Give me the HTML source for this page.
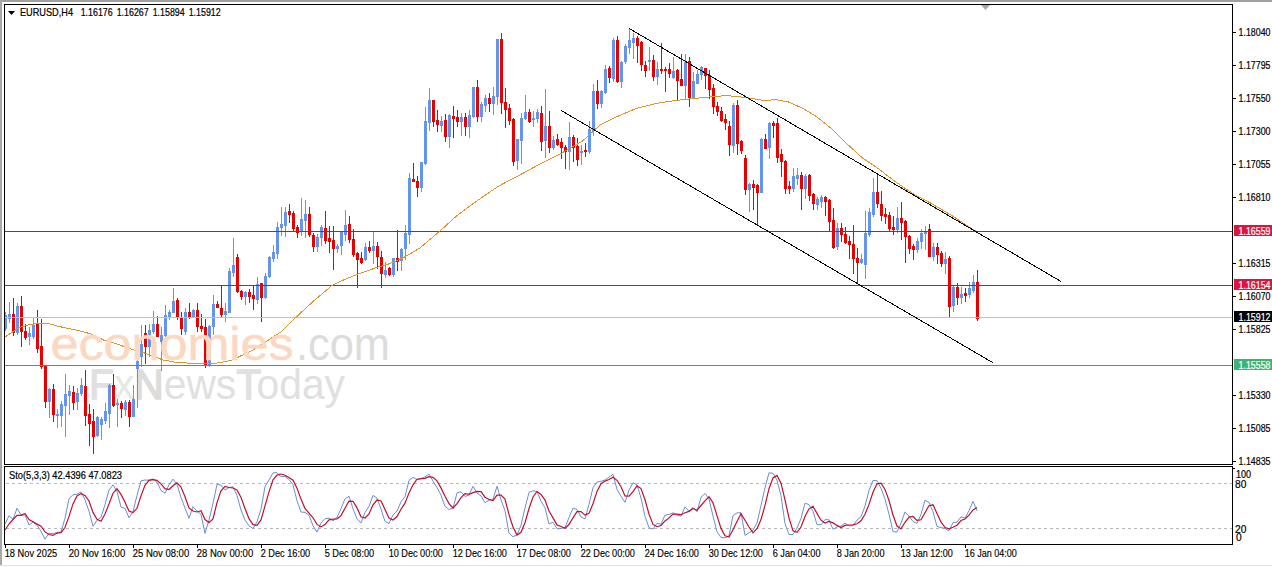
<!DOCTYPE html><html><head><meta charset="utf-8"><style>html,body{margin:0;padding:0;background:#fff;width:1272px;height:567px;overflow:hidden}svg{display:block}text{font-family:"Liberation Sans", sans-serif;}.t{stroke-width:0.2px}.t2{stroke-width:0.15px}</style></head><body>
<svg width="1272" height="567" viewBox="0 0 1272 567" shape-rendering="crispEdges">
<rect x="0" y="0" width="1272" height="2" fill="#a0a0a0"/>
<rect x="0" y="0" width="2" height="565" fill="#a8a8a8"/>
<rect x="0" y="565" width="1272" height="1" fill="#e2e2e2"/>
<text x="89" y="399" font-size="43" fill="#e0e0e0" textLength="256" lengthAdjust="spacingAndGlyphs"><tspan stroke="#e0e0e0" stroke-width="1.3">F</tspan><tspan fill="#e2eae2">x</tspan><tspan stroke="#dcdcdc" fill="#dcdcdc" stroke-width="1.6">N</tspan>ews<tspan stroke="#e0e0e0" stroke-width="1.3">T</tspan>oday</text>
<rect x="5" y="312" width="1" height="19" fill="#6495ed"/><rect x="4" y="315" width="3" height="14" fill="#6495ed"/><rect x="9" y="302" width="1" height="21" fill="#6495ed"/><rect x="8" y="314" width="3" height="5" fill="#6495ed"/><rect x="13" y="298" width="1" height="38" fill="#e60000"/><rect x="12" y="314" width="3" height="19" fill="#e60000"/><rect x="17" y="303" width="1" height="32" fill="#6495ed"/><rect x="16" y="306" width="3" height="27" fill="#6495ed"/><rect x="21" y="296" width="1" height="51" fill="#e60000"/><rect x="20" y="306" width="3" height="26" fill="#e60000"/><rect x="25" y="324" width="1" height="16" fill="#e60000"/><rect x="24" y="331" width="3" height="7" fill="#e60000"/><rect x="29" y="327" width="1" height="18" fill="#6495ed"/><rect x="28" y="333" width="3" height="4" fill="#6495ed"/><rect x="33" y="318" width="1" height="21" fill="#6495ed"/><rect x="32" y="325" width="3" height="12" fill="#6495ed"/><rect x="37" y="310" width="1" height="43" fill="#e60000"/><rect x="36" y="323" width="3" height="26" fill="#e60000"/><rect x="41" y="319" width="1" height="50" fill="#e60000"/><rect x="40" y="346" width="3" height="21" fill="#e60000"/><rect x="45" y="366" width="1" height="42" fill="#e60000"/><rect x="44" y="366" width="3" height="36" fill="#e60000"/><rect x="49" y="388" width="1" height="30" fill="#6495ed"/><rect x="48" y="389" width="3" height="13" fill="#6495ed"/><rect x="53" y="384" width="1" height="38" fill="#e60000"/><rect x="52" y="389" width="3" height="26" fill="#e60000"/><rect x="57" y="409" width="1" height="19" fill="#6495ed"/><rect x="56" y="414" width="3" height="2" fill="#6495ed"/><rect x="61" y="401" width="1" height="26" fill="#6495ed"/><rect x="60" y="404" width="3" height="12" fill="#6495ed"/><rect x="65" y="374" width="1" height="63" fill="#6495ed"/><rect x="64" y="394" width="3" height="12" fill="#6495ed"/><rect x="69" y="385" width="1" height="30" fill="#6495ed"/><rect x="68" y="391" width="3" height="5" fill="#6495ed"/><rect x="73" y="386" width="1" height="24" fill="#e60000"/><rect x="72" y="392" width="3" height="11" fill="#e60000"/><rect x="77" y="388" width="1" height="22" fill="#6495ed"/><rect x="76" y="393" width="3" height="9" fill="#6495ed"/><rect x="81" y="378" width="1" height="18" fill="#6495ed"/><rect x="80" y="385" width="3" height="9" fill="#6495ed"/><rect x="85" y="370" width="1" height="56" fill="#e60000"/><rect x="84" y="386" width="3" height="30" fill="#e60000"/><rect x="89" y="404" width="1" height="42" fill="#e60000"/><rect x="88" y="414" width="3" height="10" fill="#e60000"/><rect x="93" y="409" width="1" height="45" fill="#e60000"/><rect x="92" y="421" width="3" height="16" fill="#e60000"/><rect x="97" y="416" width="1" height="21" fill="#6495ed"/><rect x="96" y="417" width="3" height="19" fill="#6495ed"/><rect x="101" y="417" width="1" height="23" fill="#6495ed"/><rect x="100" y="419" width="3" height="6" fill="#6495ed"/><rect x="105" y="403" width="1" height="21" fill="#6495ed"/><rect x="104" y="411" width="3" height="10" fill="#6495ed"/><rect x="109" y="384" width="1" height="44" fill="#6495ed"/><rect x="108" y="385" width="3" height="29" fill="#6495ed"/><rect x="113" y="374" width="1" height="33" fill="#e60000"/><rect x="112" y="385" width="3" height="21" fill="#e60000"/><rect x="117" y="399" width="1" height="28" fill="#6495ed"/><rect x="116" y="403" width="3" height="2" fill="#6495ed"/><rect x="121" y="401" width="1" height="17" fill="#e60000"/><rect x="120" y="403" width="3" height="6" fill="#e60000"/><rect x="125" y="400" width="1" height="16" fill="#6495ed"/><rect x="124" y="402" width="3" height="8" fill="#6495ed"/><rect x="129" y="400" width="1" height="27" fill="#e60000"/><rect x="128" y="402" width="3" height="15" fill="#e60000"/><rect x="133" y="385" width="1" height="32" fill="#6495ed"/><rect x="132" y="399" width="3" height="18" fill="#6495ed"/><rect x="137" y="360" width="1" height="48" fill="#6495ed"/><rect x="136" y="361" width="3" height="8" fill="#6495ed"/><rect x="141" y="325" width="1" height="42" fill="#6495ed"/><rect x="140" y="344" width="3" height="13" fill="#6495ed"/><rect x="145" y="325" width="1" height="39" fill="#e60000"/><rect x="144" y="333" width="3" height="14" fill="#e60000"/><rect x="149" y="324" width="1" height="33" fill="#6495ed"/><rect x="148" y="330" width="3" height="17" fill="#6495ed"/><rect x="153" y="311" width="1" height="23" fill="#6495ed"/><rect x="152" y="324" width="3" height="8" fill="#6495ed"/><rect x="157" y="316" width="1" height="21" fill="#e60000"/><rect x="156" y="324" width="3" height="13" fill="#e60000"/><rect x="161" y="327" width="1" height="44" fill="#6495ed"/><rect x="160" y="335" width="3" height="7" fill="#6495ed"/><rect x="165" y="305" width="1" height="32" fill="#6495ed"/><rect x="164" y="315" width="3" height="21" fill="#6495ed"/><rect x="169" y="310" width="1" height="10" fill="#6495ed"/><rect x="168" y="312" width="3" height="5" fill="#6495ed"/><rect x="173" y="288" width="1" height="25" fill="#6495ed"/><rect x="172" y="301" width="3" height="12" fill="#6495ed"/><rect x="177" y="298" width="1" height="22" fill="#e60000"/><rect x="176" y="300" width="3" height="18" fill="#e60000"/><rect x="181" y="312" width="1" height="23" fill="#e60000"/><rect x="180" y="317" width="3" height="12" fill="#e60000"/><rect x="185" y="308" width="1" height="27" fill="#6495ed"/><rect x="184" y="312" width="3" height="20" fill="#6495ed"/><rect x="189" y="303" width="1" height="16" fill="#e60000"/><rect x="188" y="312" width="3" height="6" fill="#e60000"/><rect x="193" y="309" width="1" height="9" fill="#6495ed"/><rect x="192" y="310" width="3" height="7" fill="#6495ed"/><rect x="197" y="303" width="1" height="29" fill="#e60000"/><rect x="196" y="310" width="3" height="17" fill="#e60000"/><rect x="201" y="314" width="1" height="18" fill="#e60000"/><rect x="200" y="326" width="3" height="3" fill="#e60000"/><rect x="205" y="319" width="1" height="49" fill="#e60000"/><rect x="204" y="327" width="3" height="38" fill="#e60000"/><rect x="209" y="325" width="1" height="42" fill="#6495ed"/><rect x="208" y="326" width="3" height="40" fill="#6495ed"/><rect x="213" y="295" width="1" height="40" fill="#6495ed"/><rect x="212" y="304" width="3" height="23" fill="#6495ed"/><rect x="217" y="301" width="1" height="7" fill="#e60000"/><rect x="216" y="304" width="3" height="4" fill="#e60000"/><rect x="221" y="285" width="1" height="33" fill="#e60000"/><rect x="220" y="308" width="3" height="7" fill="#e60000"/><rect x="225" y="303" width="1" height="19" fill="#6495ed"/><rect x="224" y="311" width="3" height="4" fill="#6495ed"/><rect x="229" y="268" width="1" height="45" fill="#6495ed"/><rect x="228" y="271" width="3" height="42" fill="#6495ed"/><rect x="233" y="238" width="1" height="39" fill="#6495ed"/><rect x="232" y="265" width="3" height="8" fill="#6495ed"/><rect x="237" y="254" width="1" height="39" fill="#e60000"/><rect x="236" y="257" width="3" height="35" fill="#e60000"/><rect x="241" y="290" width="1" height="10" fill="#e60000"/><rect x="240" y="291" width="3" height="6" fill="#e60000"/><rect x="245" y="291" width="1" height="14" fill="#6495ed"/><rect x="244" y="292" width="3" height="5" fill="#6495ed"/><rect x="249" y="289" width="1" height="14" fill="#e60000"/><rect x="248" y="292" width="3" height="5" fill="#e60000"/><rect x="253" y="286" width="1" height="24" fill="#e60000"/><rect x="252" y="295" width="3" height="4" fill="#e60000"/><rect x="257" y="277" width="1" height="27" fill="#6495ed"/><rect x="256" y="284" width="3" height="16" fill="#6495ed"/><rect x="261" y="283" width="1" height="39" fill="#e60000"/><rect x="260" y="283" width="3" height="15" fill="#e60000"/><rect x="265" y="273" width="1" height="26" fill="#6495ed"/><rect x="264" y="276" width="3" height="22" fill="#6495ed"/><rect x="269" y="256" width="1" height="22" fill="#6495ed"/><rect x="268" y="257" width="3" height="20" fill="#6495ed"/><rect x="273" y="245" width="1" height="17" fill="#6495ed"/><rect x="272" y="252" width="3" height="7" fill="#6495ed"/><rect x="277" y="222" width="1" height="37" fill="#6495ed"/><rect x="276" y="227" width="3" height="27" fill="#6495ed"/><rect x="281" y="207" width="1" height="29" fill="#6495ed"/><rect x="280" y="224" width="3" height="4" fill="#6495ed"/><rect x="285" y="207" width="1" height="30" fill="#6495ed"/><rect x="284" y="212" width="3" height="14" fill="#6495ed"/><rect x="289" y="204" width="1" height="19" fill="#e60000"/><rect x="288" y="211" width="3" height="4" fill="#e60000"/><rect x="293" y="211" width="1" height="20" fill="#e60000"/><rect x="292" y="213" width="3" height="16" fill="#e60000"/><rect x="297" y="225" width="1" height="13" fill="#e60000"/><rect x="296" y="227" width="3" height="6" fill="#e60000"/><rect x="301" y="198" width="1" height="38" fill="#6495ed"/><rect x="300" y="219" width="3" height="12" fill="#6495ed"/><rect x="305" y="200" width="1" height="38" fill="#6495ed"/><rect x="304" y="214" width="3" height="7" fill="#6495ed"/><rect x="309" y="207" width="1" height="30" fill="#e60000"/><rect x="308" y="214" width="3" height="21" fill="#e60000"/><rect x="313" y="233" width="1" height="19" fill="#e60000"/><rect x="312" y="235" width="3" height="12" fill="#e60000"/><rect x="317" y="234" width="1" height="18" fill="#6495ed"/><rect x="316" y="237" width="3" height="10" fill="#6495ed"/><rect x="321" y="225" width="1" height="21" fill="#6495ed"/><rect x="320" y="227" width="3" height="11" fill="#6495ed"/><rect x="325" y="211" width="1" height="33" fill="#e60000"/><rect x="324" y="228" width="3" height="13" fill="#e60000"/><rect x="329" y="226" width="1" height="27" fill="#e60000"/><rect x="328" y="238" width="3" height="4" fill="#e60000"/><rect x="333" y="226" width="1" height="44" fill="#e60000"/><rect x="332" y="240" width="3" height="9" fill="#e60000"/><rect x="337" y="244" width="1" height="9" fill="#6495ed"/><rect x="336" y="246" width="3" height="3" fill="#6495ed"/><rect x="341" y="231" width="1" height="24" fill="#6495ed"/><rect x="340" y="232" width="3" height="14" fill="#6495ed"/><rect x="345" y="210" width="1" height="31" fill="#6495ed"/><rect x="344" y="225" width="3" height="10" fill="#6495ed"/><rect x="349" y="216" width="1" height="27" fill="#e60000"/><rect x="348" y="224" width="3" height="16" fill="#e60000"/><rect x="353" y="229" width="1" height="28" fill="#e60000"/><rect x="352" y="239" width="3" height="16" fill="#e60000"/><rect x="357" y="252" width="1" height="36" fill="#e60000"/><rect x="356" y="253" width="3" height="7" fill="#e60000"/><rect x="361" y="252" width="1" height="12" fill="#e60000"/><rect x="360" y="258" width="3" height="5" fill="#e60000"/><rect x="365" y="243" width="1" height="18" fill="#6495ed"/><rect x="364" y="247" width="3" height="13" fill="#6495ed"/><rect x="369" y="241" width="1" height="12" fill="#e60000"/><rect x="368" y="247" width="3" height="4" fill="#e60000"/><rect x="373" y="232" width="1" height="32" fill="#6495ed"/><rect x="372" y="246" width="3" height="5" fill="#6495ed"/><rect x="377" y="242" width="1" height="27" fill="#e60000"/><rect x="376" y="246" width="3" height="11" fill="#e60000"/><rect x="381" y="251" width="1" height="37" fill="#e60000"/><rect x="380" y="257" width="3" height="17" fill="#e60000"/><rect x="385" y="262" width="1" height="16" fill="#6495ed"/><rect x="384" y="270" width="3" height="5" fill="#6495ed"/><rect x="389" y="267" width="1" height="9" fill="#e60000"/><rect x="388" y="268" width="3" height="7" fill="#e60000"/><rect x="393" y="258" width="1" height="19" fill="#6495ed"/><rect x="392" y="258" width="3" height="17" fill="#6495ed"/><rect x="397" y="230" width="1" height="41" fill="#e60000"/><rect x="396" y="258" width="3" height="4" fill="#e60000"/><rect x="401" y="248" width="1" height="23" fill="#6495ed"/><rect x="400" y="249" width="3" height="12" fill="#6495ed"/><rect x="405" y="225" width="1" height="35" fill="#6495ed"/><rect x="404" y="233" width="3" height="16" fill="#6495ed"/><rect x="409" y="173" width="1" height="71" fill="#6495ed"/><rect x="408" y="178" width="3" height="57" fill="#6495ed"/><rect x="413" y="163" width="1" height="19" fill="#e60000"/><rect x="412" y="179" width="3" height="3" fill="#e60000"/><rect x="417" y="176" width="1" height="21" fill="#e60000"/><rect x="416" y="181" width="3" height="7" fill="#e60000"/><rect x="421" y="162" width="1" height="30" fill="#6495ed"/><rect x="420" y="162" width="3" height="26" fill="#6495ed"/><rect x="425" y="107" width="1" height="58" fill="#6495ed"/><rect x="424" y="121" width="3" height="43" fill="#6495ed"/><rect x="429" y="88" width="1" height="43" fill="#6495ed"/><rect x="428" y="100" width="3" height="23" fill="#6495ed"/><rect x="433" y="100" width="1" height="27" fill="#e60000"/><rect x="432" y="100" width="3" height="22" fill="#e60000"/><rect x="437" y="110" width="1" height="22" fill="#e60000"/><rect x="436" y="120" width="3" height="5" fill="#e60000"/><rect x="441" y="116" width="1" height="16" fill="#6495ed"/><rect x="440" y="121" width="3" height="5" fill="#6495ed"/><rect x="445" y="114" width="1" height="28" fill="#e60000"/><rect x="444" y="120" width="3" height="17" fill="#e60000"/><rect x="449" y="114" width="1" height="34" fill="#6495ed"/><rect x="448" y="115" width="3" height="22" fill="#6495ed"/><rect x="453" y="106" width="1" height="32" fill="#e60000"/><rect x="452" y="116" width="3" height="3" fill="#e60000"/><rect x="457" y="110" width="1" height="17" fill="#e60000"/><rect x="456" y="117" width="3" height="5" fill="#e60000"/><rect x="461" y="113" width="1" height="23" fill="#6495ed"/><rect x="460" y="117" width="3" height="5" fill="#6495ed"/><rect x="465" y="113" width="1" height="23" fill="#e60000"/><rect x="464" y="117" width="3" height="10" fill="#e60000"/><rect x="469" y="110" width="1" height="28" fill="#6495ed"/><rect x="468" y="115" width="3" height="12" fill="#6495ed"/><rect x="473" y="87" width="1" height="31" fill="#6495ed"/><rect x="472" y="87" width="3" height="30" fill="#6495ed"/><rect x="477" y="80" width="1" height="42" fill="#e60000"/><rect x="476" y="87" width="3" height="30" fill="#e60000"/><rect x="481" y="102" width="1" height="20" fill="#6495ed"/><rect x="480" y="104" width="3" height="13" fill="#6495ed"/><rect x="485" y="95" width="1" height="17" fill="#6495ed"/><rect x="484" y="98" width="3" height="8" fill="#6495ed"/><rect x="489" y="93" width="1" height="19" fill="#e60000"/><rect x="488" y="98" width="3" height="6" fill="#e60000"/><rect x="493" y="87" width="1" height="28" fill="#6495ed"/><rect x="492" y="96" width="3" height="8" fill="#6495ed"/><rect x="497" y="39" width="1" height="66" fill="#6495ed"/><rect x="496" y="39" width="3" height="58" fill="#6495ed"/><rect x="501" y="33" width="1" height="81" fill="#e60000"/><rect x="500" y="39" width="3" height="64" fill="#e60000"/><rect x="505" y="88" width="1" height="40" fill="#e60000"/><rect x="504" y="102" width="3" height="8" fill="#e60000"/><rect x="509" y="104" width="1" height="21" fill="#e60000"/><rect x="508" y="108" width="3" height="13" fill="#e60000"/><rect x="513" y="118" width="1" height="48" fill="#e60000"/><rect x="512" y="119" width="3" height="43" fill="#e60000"/><rect x="517" y="139" width="1" height="31" fill="#6495ed"/><rect x="516" y="139" width="3" height="22" fill="#6495ed"/><rect x="521" y="113" width="1" height="51" fill="#6495ed"/><rect x="520" y="118" width="3" height="23" fill="#6495ed"/><rect x="525" y="95" width="1" height="25" fill="#6495ed"/><rect x="524" y="112" width="3" height="7" fill="#6495ed"/><rect x="529" y="109" width="1" height="14" fill="#e60000"/><rect x="528" y="112" width="3" height="10" fill="#e60000"/><rect x="533" y="111" width="1" height="16" fill="#6495ed"/><rect x="532" y="118" width="3" height="2" fill="#6495ed"/><rect x="537" y="109" width="1" height="14" fill="#6495ed"/><rect x="536" y="112" width="3" height="7" fill="#6495ed"/><rect x="541" y="106" width="1" height="45" fill="#e60000"/><rect x="540" y="113" width="3" height="29" fill="#e60000"/><rect x="545" y="89" width="1" height="69" fill="#6495ed"/><rect x="544" y="126" width="3" height="15" fill="#6495ed"/><rect x="549" y="111" width="1" height="42" fill="#e60000"/><rect x="548" y="126" width="3" height="22" fill="#e60000"/><rect x="553" y="136" width="1" height="14" fill="#6495ed"/><rect x="552" y="140" width="3" height="8" fill="#6495ed"/><rect x="557" y="134" width="1" height="12" fill="#e60000"/><rect x="556" y="139" width="3" height="6" fill="#e60000"/><rect x="561" y="138" width="1" height="21" fill="#e60000"/><rect x="560" y="142" width="3" height="6" fill="#e60000"/><rect x="565" y="145" width="1" height="24" fill="#e60000"/><rect x="564" y="147" width="3" height="5" fill="#e60000"/><rect x="569" y="122" width="1" height="48" fill="#6495ed"/><rect x="568" y="137" width="3" height="15" fill="#6495ed"/><rect x="573" y="135" width="1" height="27" fill="#e60000"/><rect x="572" y="137" width="3" height="11" fill="#e60000"/><rect x="577" y="138" width="1" height="28" fill="#e60000"/><rect x="576" y="146" width="3" height="14" fill="#e60000"/><rect x="581" y="145" width="1" height="20" fill="#6495ed"/><rect x="580" y="151" width="3" height="2" fill="#6495ed"/><rect x="585" y="143" width="1" height="14" fill="#e60000"/><rect x="584" y="150" width="3" height="2" fill="#e60000"/><rect x="589" y="121" width="1" height="33" fill="#6495ed"/><rect x="588" y="129" width="3" height="23" fill="#6495ed"/><rect x="593" y="84" width="1" height="52" fill="#6495ed"/><rect x="592" y="91" width="3" height="40" fill="#6495ed"/><rect x="597" y="80" width="1" height="29" fill="#e60000"/><rect x="596" y="91" width="3" height="13" fill="#e60000"/><rect x="601" y="90" width="1" height="18" fill="#6495ed"/><rect x="600" y="91" width="3" height="13" fill="#6495ed"/><rect x="605" y="65" width="1" height="29" fill="#6495ed"/><rect x="604" y="69" width="3" height="24" fill="#6495ed"/><rect x="609" y="66" width="1" height="17" fill="#e60000"/><rect x="608" y="68" width="3" height="10" fill="#e60000"/><rect x="613" y="38" width="1" height="44" fill="#6495ed"/><rect x="612" y="40" width="3" height="39" fill="#6495ed"/><rect x="617" y="36" width="1" height="47" fill="#e60000"/><rect x="616" y="40" width="3" height="42" fill="#e60000"/><rect x="621" y="61" width="1" height="27" fill="#6495ed"/><rect x="620" y="62" width="3" height="20" fill="#6495ed"/><rect x="625" y="44" width="1" height="20" fill="#6495ed"/><rect x="624" y="46" width="3" height="16" fill="#6495ed"/><rect x="629" y="28" width="1" height="26" fill="#6495ed"/><rect x="628" y="40" width="3" height="8" fill="#6495ed"/><rect x="633" y="33" width="1" height="26" fill="#6495ed"/><rect x="632" y="38" width="3" height="5" fill="#6495ed"/><rect x="637" y="36" width="1" height="27" fill="#e60000"/><rect x="636" y="38" width="3" height="8" fill="#e60000"/><rect x="641" y="41" width="1" height="30" fill="#e60000"/><rect x="640" y="42" width="3" height="23" fill="#e60000"/><rect x="645" y="61" width="1" height="16" fill="#e60000"/><rect x="644" y="65" width="3" height="6" fill="#e60000"/><rect x="649" y="47" width="1" height="24" fill="#6495ed"/><rect x="648" y="60" width="3" height="2" fill="#6495ed"/><rect x="653" y="55" width="1" height="26" fill="#e60000"/><rect x="652" y="60" width="3" height="17" fill="#e60000"/><rect x="657" y="62" width="1" height="23" fill="#6495ed"/><rect x="656" y="69" width="3" height="8" fill="#6495ed"/><rect x="661" y="43" width="1" height="31" fill="#e60000"/><rect x="660" y="69" width="3" height="2" fill="#e60000"/><rect x="665" y="67" width="1" height="25" fill="#e60000"/><rect x="664" y="69" width="3" height="2" fill="#e60000"/><rect x="669" y="63" width="1" height="15" fill="#e60000"/><rect x="668" y="69" width="3" height="5" fill="#e60000"/><rect x="673" y="57" width="1" height="22" fill="#6495ed"/><rect x="672" y="71" width="3" height="7" fill="#6495ed"/><rect x="677" y="69" width="1" height="32" fill="#e60000"/><rect x="676" y="70" width="3" height="11" fill="#e60000"/><rect x="681" y="54" width="1" height="32" fill="#e60000"/><rect x="680" y="79" width="3" height="7" fill="#e60000"/><rect x="685" y="54" width="1" height="46" fill="#6495ed"/><rect x="684" y="62" width="3" height="24" fill="#6495ed"/><rect x="689" y="57" width="1" height="50" fill="#e60000"/><rect x="688" y="61" width="3" height="37" fill="#e60000"/><rect x="693" y="72" width="1" height="26" fill="#6495ed"/><rect x="692" y="81" width="3" height="17" fill="#6495ed"/><rect x="697" y="70" width="1" height="14" fill="#6495ed"/><rect x="696" y="74" width="3" height="10" fill="#6495ed"/><rect x="701" y="66" width="1" height="14" fill="#6495ed"/><rect x="700" y="67" width="3" height="8" fill="#6495ed"/><rect x="705" y="68" width="1" height="21" fill="#e60000"/><rect x="704" y="68" width="3" height="8" fill="#e60000"/><rect x="709" y="70" width="1" height="29" fill="#e60000"/><rect x="708" y="75" width="3" height="15" fill="#e60000"/><rect x="713" y="84" width="1" height="30" fill="#e60000"/><rect x="712" y="88" width="3" height="19" fill="#e60000"/><rect x="717" y="102" width="1" height="14" fill="#e60000"/><rect x="716" y="106" width="3" height="6" fill="#e60000"/><rect x="721" y="107" width="1" height="15" fill="#e60000"/><rect x="720" y="111" width="3" height="10" fill="#e60000"/><rect x="725" y="114" width="1" height="16" fill="#e60000"/><rect x="724" y="119" width="3" height="4" fill="#e60000"/><rect x="729" y="121" width="1" height="35" fill="#e60000"/><rect x="728" y="126" width="3" height="19" fill="#e60000"/><rect x="733" y="103" width="1" height="50" fill="#6495ed"/><rect x="732" y="105" width="3" height="41" fill="#6495ed"/><rect x="737" y="100" width="1" height="55" fill="#e60000"/><rect x="736" y="105" width="3" height="39" fill="#e60000"/><rect x="741" y="140" width="1" height="14" fill="#e60000"/><rect x="740" y="141" width="3" height="10" fill="#e60000"/><rect x="745" y="155" width="1" height="40" fill="#e60000"/><rect x="744" y="158" width="3" height="32" fill="#e60000"/><rect x="749" y="183" width="1" height="29" fill="#6495ed"/><rect x="748" y="184" width="3" height="6" fill="#6495ed"/><rect x="753" y="180" width="1" height="30" fill="#e60000"/><rect x="752" y="184" width="3" height="4" fill="#e60000"/><rect x="757" y="184" width="1" height="42" fill="#e60000"/><rect x="756" y="185" width="3" height="8" fill="#e60000"/><rect x="761" y="138" width="1" height="55" fill="#6495ed"/><rect x="760" y="139" width="3" height="54" fill="#6495ed"/><rect x="765" y="134" width="1" height="15" fill="#e60000"/><rect x="764" y="139" width="3" height="10" fill="#e60000"/><rect x="769" y="122" width="1" height="37" fill="#6495ed"/><rect x="768" y="123" width="3" height="25" fill="#6495ed"/><rect x="773" y="121" width="1" height="17" fill="#e60000"/><rect x="772" y="123" width="3" height="3" fill="#e60000"/><rect x="777" y="118" width="1" height="45" fill="#e60000"/><rect x="776" y="123" width="3" height="35" fill="#e60000"/><rect x="781" y="149" width="1" height="28" fill="#e60000"/><rect x="780" y="154" width="3" height="8" fill="#e60000"/><rect x="785" y="160" width="1" height="34" fill="#e60000"/><rect x="784" y="161" width="3" height="28" fill="#e60000"/><rect x="789" y="181" width="1" height="13" fill="#e60000"/><rect x="788" y="186" width="3" height="3" fill="#e60000"/><rect x="793" y="168" width="1" height="24" fill="#6495ed"/><rect x="792" y="176" width="3" height="13" fill="#6495ed"/><rect x="797" y="168" width="1" height="17" fill="#6495ed"/><rect x="796" y="175" width="3" height="4" fill="#6495ed"/><rect x="801" y="172" width="1" height="38" fill="#e60000"/><rect x="800" y="175" width="3" height="14" fill="#e60000"/><rect x="805" y="174" width="1" height="25" fill="#6495ed"/><rect x="804" y="176" width="3" height="13" fill="#6495ed"/><rect x="809" y="174" width="1" height="27" fill="#e60000"/><rect x="808" y="175" width="3" height="21" fill="#e60000"/><rect x="813" y="193" width="1" height="17" fill="#e60000"/><rect x="812" y="194" width="3" height="10" fill="#e60000"/><rect x="817" y="197" width="1" height="13" fill="#6495ed"/><rect x="816" y="199" width="3" height="6" fill="#6495ed"/><rect x="821" y="195" width="1" height="13" fill="#6495ed"/><rect x="820" y="197" width="3" height="5" fill="#6495ed"/><rect x="825" y="196" width="1" height="20" fill="#e60000"/><rect x="824" y="197" width="3" height="5" fill="#e60000"/><rect x="829" y="199" width="1" height="33" fill="#e60000"/><rect x="828" y="200" width="3" height="22" fill="#e60000"/><rect x="833" y="208" width="1" height="41" fill="#e60000"/><rect x="832" y="220" width="3" height="28" fill="#e60000"/><rect x="837" y="223" width="1" height="27" fill="#6495ed"/><rect x="836" y="228" width="3" height="19" fill="#6495ed"/><rect x="841" y="223" width="1" height="19" fill="#e60000"/><rect x="840" y="228" width="3" height="7" fill="#e60000"/><rect x="845" y="227" width="1" height="17" fill="#e60000"/><rect x="844" y="234" width="3" height="9" fill="#e60000"/><rect x="849" y="236" width="1" height="23" fill="#e60000"/><rect x="848" y="241" width="3" height="4" fill="#e60000"/><rect x="853" y="225" width="1" height="49" fill="#e60000"/><rect x="852" y="244" width="3" height="15" fill="#e60000"/><rect x="857" y="248" width="1" height="36" fill="#e60000"/><rect x="856" y="258" width="3" height="5" fill="#e60000"/><rect x="861" y="254" width="1" height="10" fill="#6495ed"/><rect x="860" y="259" width="3" height="4" fill="#6495ed"/><rect x="865" y="211" width="1" height="68" fill="#6495ed"/><rect x="864" y="233" width="3" height="32" fill="#6495ed"/><rect x="869" y="208" width="1" height="29" fill="#6495ed"/><rect x="868" y="212" width="3" height="23" fill="#6495ed"/><rect x="873" y="178" width="1" height="39" fill="#6495ed"/><rect x="872" y="192" width="3" height="23" fill="#6495ed"/><rect x="877" y="175" width="1" height="33" fill="#e60000"/><rect x="876" y="192" width="3" height="12" fill="#e60000"/><rect x="881" y="191" width="1" height="30" fill="#e60000"/><rect x="880" y="204" width="3" height="12" fill="#e60000"/><rect x="885" y="208" width="1" height="16" fill="#e60000"/><rect x="884" y="214" width="3" height="3" fill="#e60000"/><rect x="889" y="212" width="1" height="20" fill="#e60000"/><rect x="888" y="215" width="3" height="14" fill="#e60000"/><rect x="893" y="216" width="1" height="19" fill="#e60000"/><rect x="892" y="227" width="3" height="3" fill="#e60000"/><rect x="897" y="207" width="1" height="26" fill="#6495ed"/><rect x="896" y="218" width="3" height="12" fill="#6495ed"/><rect x="901" y="202" width="1" height="38" fill="#e60000"/><rect x="900" y="218" width="3" height="5" fill="#e60000"/><rect x="905" y="220" width="1" height="43" fill="#e60000"/><rect x="904" y="221" width="3" height="16" fill="#e60000"/><rect x="909" y="235" width="1" height="19" fill="#e60000"/><rect x="908" y="236" width="3" height="13" fill="#e60000"/><rect x="913" y="244" width="1" height="16" fill="#e60000"/><rect x="912" y="246" width="3" height="4" fill="#e60000"/><rect x="917" y="238" width="1" height="15" fill="#6495ed"/><rect x="916" y="241" width="3" height="9" fill="#6495ed"/><rect x="921" y="229" width="1" height="20" fill="#6495ed"/><rect x="920" y="233" width="3" height="9" fill="#6495ed"/><rect x="925" y="226" width="1" height="24" fill="#6495ed"/><rect x="924" y="231" width="3" height="3" fill="#6495ed"/><rect x="929" y="224" width="1" height="33" fill="#e60000"/><rect x="928" y="229" width="3" height="28" fill="#e60000"/><rect x="933" y="243" width="1" height="18" fill="#6495ed"/><rect x="932" y="247" width="3" height="10" fill="#6495ed"/><rect x="937" y="243" width="1" height="21" fill="#e60000"/><rect x="936" y="247" width="3" height="8" fill="#e60000"/><rect x="941" y="251" width="1" height="16" fill="#e60000"/><rect x="940" y="253" width="3" height="11" fill="#e60000"/><rect x="945" y="252" width="1" height="22" fill="#6495ed"/><rect x="944" y="259" width="3" height="5" fill="#6495ed"/><rect x="949" y="256" width="1" height="62" fill="#e60000"/><rect x="948" y="258" width="3" height="49" fill="#e60000"/><rect x="953" y="286" width="1" height="26" fill="#6495ed"/><rect x="952" y="287" width="3" height="19" fill="#6495ed"/><rect x="957" y="283" width="1" height="22" fill="#e60000"/><rect x="956" y="287" width="3" height="11" fill="#e60000"/><rect x="961" y="287" width="1" height="17" fill="#6495ed"/><rect x="960" y="294" width="3" height="4" fill="#6495ed"/><rect x="965" y="288" width="1" height="14" fill="#e60000"/><rect x="964" y="293" width="3" height="3" fill="#e60000"/><rect x="969" y="282" width="1" height="16" fill="#6495ed"/><rect x="968" y="288" width="3" height="7" fill="#6495ed"/><rect x="973" y="275" width="1" height="18" fill="#6495ed"/><rect x="972" y="282" width="3" height="9" fill="#6495ed"/><rect x="977" y="270" width="1" height="51" fill="#e60000"/><rect x="976" y="282" width="3" height="37" fill="#e60000"/>
<rect x="5" y="231" width="1227" height="1" fill="#a82048"/>
<rect x="5" y="285" width="1227" height="1" fill="#a82048"/>
<rect x="5" y="317" width="1227" height="1" fill="#c0c0c0"/>
<rect x="5" y="365" width="1227" height="1" fill="#3c9a78"/>
<polyline fill="none" stroke="#d8962c" stroke-width="1" shape-rendering="crispEdges" points="5.0,337.0 11.8,332.4 19.7,327.5 29.5,324.6 39.3,323.2 47.2,323.2 59.0,326.5 78.6,330.5 90.4,333.8 104.2,340.3 118.0,344.2 127.8,348.2 141.5,352.0 153.3,356.0 163.0,360.0 177.0,362.5 192.6,363.3 206.4,363.9 218.2,362.9 232.0,360.2 252.9,350.0 281.6,331.5 296.5,316.8 312.6,301.9 332.0,285.4 344.7,279.4 358.4,274.0 376.8,267.5 390.5,263.4 404.3,257.2 420.0,247.9 439.5,231.4 456.0,216.4 474.0,203.0 498.0,186.4 519.0,175.4 540.0,164.0 561.0,153.5 582.0,141.5 600.0,125.0 615.0,117.5 636.0,108.5 656.9,103.4 670.0,101.2 687.0,99.2 709.5,97.0 726.4,95.5 746.2,97.5 763.0,100.3 777.2,99.8 788.5,102.0 802.6,108.2 816.7,116.7 830.8,128.0 845.0,142.0 862.0,157.6 878.8,169.0 895.7,182.0 915.5,195.3 930.0,202.7 951.0,215.0 972.3,229.0 977.0,231.5"/>
<line x1="629.2" y1="28.5" x2="1061" y2="281.5" stroke="#000" stroke-width="1" shape-rendering="crispEdges"/>
<line x1="561.1" y1="110.5" x2="992.6" y2="362.5" stroke="#000" stroke-width="1" shape-rendering="crispEdges"/>
<g><text x="50.5" y="359.5" font-size="46" fill="#fcd8c0" stroke="#fcd8c0" stroke-width="0.5" textLength="243" lengthAdjust="spacingAndGlyphs">economies</text>
<text x="296" y="359.5" font-size="46" fill="#dcdcdc" textLength="94" lengthAdjust="spacingAndGlyphs">.com</text>
</g>
<rect x="4.5" y="4.5" width="1228" height="460" fill="none" stroke="#000" stroke-width="1"/>
<rect x="4.5" y="466.5" width="1228" height="78" fill="none" stroke="#000" stroke-width="1"/>
<polygon points="981,5 990,5 985.5,10" fill="#a8a8a8" shape-rendering="auto"/>
<polygon points="8,11 15,11 11.5,15" fill="#000" shape-rendering="auto"/>
<text x="20" y="16" font-size="10.2" fill="#000" stroke="#000" class="t" textLength="53" lengthAdjust="spacingAndGlyphs">EURUSD,H4</text>
<text x="80.7" y="16" font-size="10.2" fill="#000" stroke="#000" class="t" textLength="32" lengthAdjust="spacingAndGlyphs">1.16176</text>
<text x="116.7" y="16" font-size="10.2" fill="#000" stroke="#000" class="t" textLength="32" lengthAdjust="spacingAndGlyphs">1.16267</text>
<text x="152.7" y="16" font-size="10.2" fill="#000" stroke="#000" class="t" textLength="32" lengthAdjust="spacingAndGlyphs">1.15894</text>
<text x="188.7" y="16" font-size="10.2" fill="#000" stroke="#000" class="t" textLength="32" lengthAdjust="spacingAndGlyphs">1.15912</text>
<rect x="1233" y="32" width="3" height="1" fill="#000"/>
<text x="1238.5" y="36" font-size="10.2" fill="#000" stroke="#000" class="t" textLength="32" lengthAdjust="spacingAndGlyphs">1.18040</text>
<rect x="1233" y="65" width="3" height="1" fill="#000"/>
<text x="1238.5" y="69" font-size="10.2" fill="#000" stroke="#000" class="t" textLength="32" lengthAdjust="spacingAndGlyphs">1.17795</text>
<rect x="1233" y="98" width="3" height="1" fill="#000"/>
<text x="1238.5" y="102" font-size="10.2" fill="#000" stroke="#000" class="t" textLength="32" lengthAdjust="spacingAndGlyphs">1.17550</text>
<rect x="1233" y="131" width="3" height="1" fill="#000"/>
<text x="1238.5" y="135" font-size="10.2" fill="#000" stroke="#000" class="t" textLength="32" lengthAdjust="spacingAndGlyphs">1.17300</text>
<rect x="1233" y="164" width="3" height="1" fill="#000"/>
<text x="1238.5" y="168" font-size="10.2" fill="#000" stroke="#000" class="t" textLength="32" lengthAdjust="spacingAndGlyphs">1.17055</text>
<rect x="1233" y="197" width="3" height="1" fill="#000"/>
<text x="1238.5" y="201" font-size="10.2" fill="#000" stroke="#000" class="t" textLength="32" lengthAdjust="spacingAndGlyphs">1.16810</text>
<rect x="1233" y="263" width="3" height="1" fill="#000"/>
<text x="1238.5" y="267" font-size="10.2" fill="#000" stroke="#000" class="t" textLength="32" lengthAdjust="spacingAndGlyphs">1.16315</text>
<rect x="1233" y="296" width="3" height="1" fill="#000"/>
<text x="1238.5" y="300" font-size="10.2" fill="#000" stroke="#000" class="t" textLength="32" lengthAdjust="spacingAndGlyphs">1.16070</text>
<rect x="1233" y="329" width="3" height="1" fill="#000"/>
<text x="1238.5" y="333" font-size="10.2" fill="#000" stroke="#000" class="t" textLength="32" lengthAdjust="spacingAndGlyphs">1.15825</text>
<rect x="1233" y="395" width="3" height="1" fill="#000"/>
<text x="1238.5" y="399" font-size="10.2" fill="#000" stroke="#000" class="t" textLength="32" lengthAdjust="spacingAndGlyphs">1.15330</text>
<rect x="1233" y="428" width="3" height="1" fill="#000"/>
<text x="1238.5" y="432" font-size="10.2" fill="#000" stroke="#000" class="t" textLength="32" lengthAdjust="spacingAndGlyphs">1.15085</text>
<rect x="1233" y="461" width="3" height="1" fill="#000"/>
<text x="1238.5" y="465" font-size="10.2" fill="#000" stroke="#000" class="t" textLength="32" lengthAdjust="spacingAndGlyphs">1.14835</text>
<rect x="1234" y="225" width="38" height="11" fill="#dc143c"/>
<text x="1238.5" y="235" font-size="10.2" fill="#fff" stroke="#fff" class="t" textLength="32" lengthAdjust="spacingAndGlyphs">1.16559</text>
<rect x="1234" y="279" width="38" height="11" fill="#dc143c"/>
<text x="1238.5" y="289" font-size="10.2" fill="#fff" stroke="#fff" class="t" textLength="32" lengthAdjust="spacingAndGlyphs">1.16154</text>
<rect x="1234" y="311" width="38" height="11" fill="#000000"/>
<text x="1238.5" y="321" font-size="10.2" fill="#fff" stroke="#fff" class="t" textLength="32" lengthAdjust="spacingAndGlyphs">1.15912</text>
<rect x="1234" y="359" width="38" height="11" fill="#3cb371"/>
<text x="1238.5" y="369" font-size="10.2" fill="#fff" stroke="#fff" class="t" textLength="32" lengthAdjust="spacingAndGlyphs">1.15558</text>
<text x="9" y="479" font-size="10.2" fill="#000" stroke="#000" class="t" textLength="113" lengthAdjust="spacingAndGlyphs">Sto(5,3,3) 42.4396 47.0823</text>
<line x1="6" y1="483.5" x2="1232" y2="483.5" stroke="#b8b8b8" stroke-width="1" stroke-dasharray="3,3"/>
<line x1="6" y1="528.5" x2="1232" y2="528.5" stroke="#b8b8b8" stroke-width="1" stroke-dasharray="3,3"/>
<polyline fill="none" stroke="#6a8fd0" stroke-width="1" shape-rendering="auto" points="5,524.0 9,515.8 13,519.5 17,508.2 21,515.0 25,515.0 29,525.0 33,522.0 37,525.2 41,531.2 45,539.2 49,533.2 53,533.7 57,532.5 61,532.0 65,518.2 69,498.9 73,494.7 77,494.3 81,491.9 85,499.9 89,511.1 93,526.2 97,520.2 101,517.3 105,504.6 109,490.0 113,484.8 117,491.5 121,507.0 125,508.4 129,517.9 133,511.7 137,495.4 141,480.8 145,480.0 149,480.2 153,478.9 157,482.1 161,490.6 165,493.2 169,484.8 173,479.1 177,484.5 181,497.5 185,508.1 189,518.3 193,506.6 197,511.0 201,514.4 205,533.4 209,519.9 213,503.4 217,484.4 221,485.1 225,489.9 229,487.5 233,486.8 237,495.3 241,510.1 245,520.1 249,525.7 253,528.5 257,521.9 261,509.1 265,486.6 269,480.0 273,472.9 277,472.6 281,476.7 285,476.3 289,479.5 293,484.7 297,500.8 301,512.0 305,512.4 309,515.3 313,525.8 317,532.1 321,523.0 325,518.7 329,518.1 333,520.9 337,517.2 341,508.6 345,498.9 349,496.2 353,508.7 357,518.8 361,522.9 365,512.5 369,506.4 373,495.4 377,498.2 381,509.1 385,521.4 389,523.5 393,515.0 397,511.0 401,501.7 405,496.6 409,480.4 413,477.4 417,479.6 421,478.6 425,476.9 429,474.2 433,481.1 437,487.5 441,495.2 445,506.3 449,509.4 453,508.4 457,492.9 461,491.7 465,496.5 469,495.0 473,486.3 477,493.0 481,495.9 485,502.7 489,500.0 493,499.3 497,486.3 501,499.8 505,510.8 509,533.2 513,536.7 517,535.0 521,525.2 525,507.9 529,492.4 533,490.8 537,491.4 541,501.2 545,507.8 549,523.9 553,522.2 557,528.8 561,528.5 565,527.6 569,517.5 573,508.2 577,509.5 581,516.9 585,519.0 589,504.4 593,487.7 597,482.1 601,481.3 605,480.0 609,477.2 613,474.4 617,489.5 621,496.2 625,502.4 629,490.1 633,482.7 637,485.0 641,498.0 645,516.3 649,527.7 653,529.1 657,523.3 661,524.2 665,515.1 669,514.5 673,512.8 677,515.1 681,516.2 685,506.8 689,511.2 693,507.5 697,511.8 701,497.3 705,493.5 709,499.0 713,516.0 717,531.8 721,537.5 725,537.9 729,535.7 733,515.6 737,512.9 741,512.7 745,535.4 749,532.8 753,530.2 757,523.0 761,505.6 765,487.6 769,472.8 773,473.3 777,480.2 781,495.8 785,523.6 789,534.5 793,534.5 797,528.0 801,518.5 805,503.2 809,504.6 813,511.2 817,524.6 821,524.9 825,519.6 829,519.8 833,529.3 837,526.9 841,526.2 845,523.0 849,525.9 853,525.5 857,520.1 861,516.7 865,506.0 869,490.5 873,480.4 877,480.7 881,488.3 885,499.1 889,514.2 893,531.6 897,532.1 901,523.0 905,511.9 909,516.3 913,521.4 917,523.5 921,514.3 925,500.2 929,502.6 933,511.8 937,526.5 941,527.5 945,528.5 949,530.8 953,522.6 957,522.1 961,516.8 965,518.1 969,510.6 973,501.3 977,510.9"/>
<polyline fill="none" stroke="#c0102c" stroke-width="1.2" shape-rendering="auto" points="5,530.0 9,524.0 13,519.5 17,515.4 21,515.4 25,513.5 29,519.5 33,521.8 37,524.1 41,526.1 45,531.9 49,534.5 53,535.4 57,533.1 61,532.7 65,527.5 69,516.4 73,503.9 77,496.0 81,493.6 85,495.4 89,501.0 93,512.4 97,519.2 101,521.2 105,514.0 109,504.0 113,493.2 117,488.8 121,494.4 125,502.3 129,511.1 133,512.6 137,508.3 141,495.9 145,485.4 149,480.3 153,479.7 157,480.4 161,483.9 165,488.6 169,489.5 173,485.7 177,482.8 181,487.1 185,496.7 189,508.0 193,511.0 197,512.0 201,510.7 205,519.6 209,522.6 213,518.9 217,502.6 221,490.9 225,486.4 229,487.5 233,488.0 237,489.9 241,497.4 245,508.5 249,518.6 253,524.7 257,525.4 261,519.9 265,505.9 269,491.9 273,479.8 277,475.1 281,474.0 285,475.2 289,477.5 293,480.2 297,488.3 301,499.1 305,508.4 309,513.2 313,517.8 317,524.4 321,526.9 325,524.6 329,519.9 333,519.2 337,518.8 341,515.6 345,508.2 349,501.2 353,501.3 357,507.9 361,516.8 365,518.0 369,513.9 373,504.8 377,500.0 381,500.9 385,509.6 389,518.0 393,520.0 397,516.5 401,509.2 405,503.1 409,492.9 413,484.8 417,479.2 421,478.6 425,478.4 429,476.6 433,477.4 437,480.9 441,487.9 445,496.3 449,503.6 453,508.0 457,503.6 461,497.7 465,493.7 469,494.4 473,492.6 477,491.4 481,491.7 485,497.2 489,499.5 493,500.6 497,495.2 501,495.1 505,499.0 509,514.6 513,526.9 517,535.0 521,532.3 525,522.7 529,508.5 533,497.0 537,491.5 541,494.5 545,500.1 549,511.0 553,517.9 557,524.9 561,526.5 565,528.3 569,524.5 573,517.8 577,511.7 581,511.5 585,515.1 589,513.4 593,503.7 597,491.4 601,483.7 605,481.1 609,479.5 613,477.2 617,480.3 621,486.7 625,496.0 629,496.2 633,491.7 637,485.9 641,488.6 645,499.8 649,514.0 653,524.4 657,526.7 661,525.5 665,520.9 669,517.9 673,514.1 677,514.1 681,514.7 685,512.7 689,511.4 693,508.5 697,510.2 701,505.5 705,500.9 709,496.6 713,502.8 717,515.6 721,528.4 725,535.7 729,537.0 733,529.8 737,521.4 741,513.7 745,520.3 749,527.0 753,532.8 757,528.7 761,519.6 765,505.4 769,488.7 773,477.9 777,475.4 781,483.1 785,499.9 789,518.0 793,530.9 797,532.3 801,527.0 805,516.6 809,508.8 813,506.3 817,513.4 821,520.2 825,523.0 829,521.4 833,522.9 837,525.4 841,527.5 845,525.4 849,525.0 853,524.8 857,523.8 861,520.8 865,514.3 869,504.4 873,492.3 877,483.8 881,483.1 885,489.4 889,500.5 893,515.0 897,526.0 901,528.9 905,522.3 909,517.1 913,516.5 917,520.4 921,519.8 925,512.7 929,505.7 933,504.8 937,513.6 941,521.9 945,527.5 949,528.9 953,527.3 957,525.2 961,520.5 965,519.0 969,515.2 973,510.0 977,507.6"/>
<rect x="1233" y="468" width="2" height="1" fill="#000"/>
<text x="1236" y="477.5" font-size="10.2" fill="#000" stroke="#000" class="t" textLength="15" lengthAdjust="spacingAndGlyphs">100</text>
<text x="1235" y="488" font-size="10.2" fill="#000" stroke="#000" class="t">80</text>
<text x="1235" y="533" font-size="10.2" fill="#000" stroke="#000" class="t">20</text>
<text x="1236" y="541" font-size="10.2" fill="#000" stroke="#000" class="t">0</text>
<rect x="5" y="545" width="1" height="3" fill="#000"/>
<text x="4.7" y="557" font-size="10.3" fill="#000" stroke="#000" class="t2" textLength="52.5" lengthAdjust="spacingAndGlyphs">18 Nov 2025</text>
<rect x="69" y="545" width="1" height="3" fill="#000"/>
<text x="68.7" y="557" font-size="10.3" fill="#000" stroke="#000" class="t2" textLength="56.5" lengthAdjust="spacingAndGlyphs">20 Nov 16:00</text>
<rect x="133" y="545" width="1" height="3" fill="#000"/>
<text x="132.7" y="557" font-size="10.3" fill="#000" stroke="#000" class="t2" textLength="56.5" lengthAdjust="spacingAndGlyphs">25 Nov 08:00</text>
<rect x="197" y="545" width="1" height="3" fill="#000"/>
<text x="196.7" y="557" font-size="10.3" fill="#000" stroke="#000" class="t2" textLength="56.5" lengthAdjust="spacingAndGlyphs">28 Nov 00:00</text>
<rect x="261" y="545" width="1" height="3" fill="#000"/>
<text x="260.7" y="557" font-size="10.3" fill="#000" stroke="#000" class="t2" textLength="49.5" lengthAdjust="spacingAndGlyphs">2 Dec 16:00</text>
<rect x="325" y="545" width="1" height="3" fill="#000"/>
<text x="324.7" y="557" font-size="10.3" fill="#000" stroke="#000" class="t2" textLength="49.5" lengthAdjust="spacingAndGlyphs">5 Dec 08:00</text>
<rect x="389" y="545" width="1" height="3" fill="#000"/>
<text x="388.7" y="557" font-size="10.3" fill="#000" stroke="#000" class="t2" textLength="54.2" lengthAdjust="spacingAndGlyphs">10 Dec 00:00</text>
<rect x="453" y="545" width="1" height="3" fill="#000"/>
<text x="452.7" y="557" font-size="10.3" fill="#000" stroke="#000" class="t2" textLength="54.2" lengthAdjust="spacingAndGlyphs">12 Dec 16:00</text>
<rect x="517" y="545" width="1" height="3" fill="#000"/>
<text x="516.7" y="557" font-size="10.3" fill="#000" stroke="#000" class="t2" textLength="54.2" lengthAdjust="spacingAndGlyphs">17 Dec 08:00</text>
<rect x="581" y="545" width="1" height="3" fill="#000"/>
<text x="580.7" y="557" font-size="10.3" fill="#000" stroke="#000" class="t2" textLength="54.2" lengthAdjust="spacingAndGlyphs">22 Dec 00:00</text>
<rect x="645" y="545" width="1" height="3" fill="#000"/>
<text x="644.7" y="557" font-size="10.3" fill="#000" stroke="#000" class="t2" textLength="54.2" lengthAdjust="spacingAndGlyphs">24 Dec 16:00</text>
<rect x="709" y="545" width="1" height="3" fill="#000"/>
<text x="708.7" y="557" font-size="10.3" fill="#000" stroke="#000" class="t2" textLength="54.2" lengthAdjust="spacingAndGlyphs">30 Dec 12:00</text>
<rect x="773" y="545" width="1" height="3" fill="#000"/>
<text x="772.7" y="557" font-size="10.3" fill="#000" stroke="#000" class="t2" textLength="47.8" lengthAdjust="spacingAndGlyphs">6 Jan 04:00</text>
<rect x="837" y="545" width="1" height="3" fill="#000"/>
<text x="836.7" y="557" font-size="10.3" fill="#000" stroke="#000" class="t2" textLength="47.8" lengthAdjust="spacingAndGlyphs">8 Jan 20:00</text>
<rect x="901" y="545" width="1" height="3" fill="#000"/>
<text x="900.7" y="557" font-size="10.3" fill="#000" stroke="#000" class="t2" textLength="52.2" lengthAdjust="spacingAndGlyphs">13 Jan 12:00</text>
<rect x="965" y="545" width="1" height="3" fill="#000"/>
<text x="964.7" y="557" font-size="10.3" fill="#000" stroke="#000" class="t2" textLength="52.2" lengthAdjust="spacingAndGlyphs">16 Jan 04:00</text>
</svg></body></html>
